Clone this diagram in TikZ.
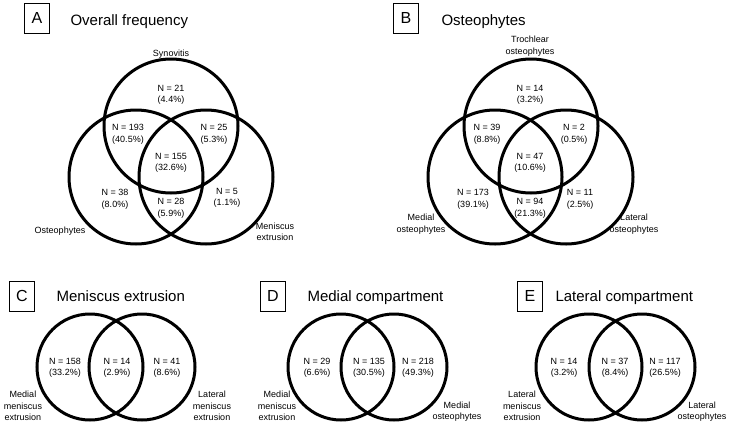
\documentclass[tikz,border=0pt]{standalone}
\usepackage{fontspec}
\setmainfont{Liberation Sans}
\begin{document}
\begin{tikzpicture}[
  x=1pt, y=-1pt,
  set/.style={draw, circle, line width=3pt, minimum size=134pt, inner sep=0pt},
  pairset/.style={set, minimum size=106pt},
  cnt/.style={font=\fontsize{9}{11.5}\selectfont, align=center},
  lbl/.style={cnt},
  tag/.style={draw, line width=0.8pt, minimum width=25pt, minimum height=30pt,
              inner sep=0pt, font=\fontsize{16}{16}\selectfont},
  ttl/.style={anchor=base west, font=\fontsize{15}{18}\selectfont}
]
  \useasboundingbox (0,0) rectangle (733,426);

  %% panel A: overall frequency
  \node[tag] (tA) at (37,18) {A};
  \node[ttl] (hA) at (67,25) {Overall frequency};
  \node[set] (syn) at (171,126) {};
  \node[set] (ost) at (136,177) {};
  \node[set] (men) at (206,177) {};
  \node[lbl] (lsyn) at (171,54) {Synovitis};
  \node[lbl] (lost) at (60,231) {Osteophytes};
  \node[lbl] (lmen) at (275,232) {Meniscus\\extrusion};
  \node[cnt] (a1) at (171,95) {N = 21\\(4.4\%)};
  \node[cnt] (a2) at (128,134.5) {N = 193\\(40.5\%)};
  \node[cnt] (a3) at (214,134.5) {N = 25\\(5.3\%)};
  \node[cnt] (a4) at (171,163) {N = 155\\(32.6\%)};
  \node[cnt] (a5) at (115,199.5) {N = 38\\(8.0\%)};
  \node[cnt] (a6) at (171,208.5) {N = 28\\(5.9\%)};
  \node[cnt] (a7) at (227,198) {N = 5\\(1.1\%)};

  %% panel B: osteophytes
  \node[tag] (tB) at (406,18) {B};
  \node[ttl] (hB) at (438,25) {Osteophytes};
  \node[set] (tro) at (531,126) {};
  \node[set] (med) at (495,177) {};
  \node[set] (lat) at (566,177) {};
  \node[lbl] (ltro) at (530,46) {Trochlear\\osteophytes};
  \node[lbl] (lmed) at (421,224) {Medial\\osteophytes};
  \node[lbl] (llat) at (634,224) {Lateral\\osteophytes};
  \node[cnt] (b1) at (530,95) {N = 14\\(3.2\%)};
  \node[cnt] (b2) at (487,134.5) {N = 39\\(8.8\%)};
  \node[cnt] (b3) at (574,134.5) {N = 2\\(0.5\%)};
  \node[cnt] (b4) at (530,163) {N = 47\\(10.6\%)};
  \node[cnt] (b5) at (473,199.5) {N = 173\\(39.1\%)};
  \node[cnt] (b6) at (530,208.5) {N = 94\\(21.3\%)};
  \node[cnt] (b7) at (580,199.5) {N = 11\\(2.5\%)};

  %% panel C: meniscus extrusion
  \node[tag] (tC) at (22,296) {C};
  \node[ttl] (hC) at (53,301) {Meniscus extrusion};
  \node[pairset] (cm) at (90,367) {};
  \node[pairset] (cl) at (142,367) {};
  \node[lbl] (lcm) at (23,406) {Medial\\meniscus\\extrusion};
  \node[lbl] (lcl) at (212,406) {Lateral\\meniscus\\extrusion};
  \node[cnt] (c1) at (65,368) {N = 158\\(33.2\%)};
  \node[cnt] (c2) at (117,368) {N = 14\\(2.9\%)};
  \node[cnt] (c3) at (167,368) {N = 41\\(8.6\%)};

  %% panel D: medial compartment
  \node[tag] (tD) at (273,296) {D};
  \node[ttl] (hD) at (304,301) {Medial compartment};
  \node[pairset] (dm) at (341,367) {};
  \node[pairset] (do) at (394,367) {};
  \node[lbl] (ldm) at (277,406) {Medial\\meniscus\\extrusion};
  \node[lbl] (ldo) at (457,411.5) {Medial\\osteophytes};
  \node[cnt] (d1) at (317,368) {N = 29\\(6.6\%)};
  \node[cnt] (d2) at (369,368) {N = 135\\(30.5\%)};
  \node[cnt] (d3) at (418,368) {N = 218\\(49.3\%)};

  %% panel E: lateral compartment
  \node[tag] (tE) at (530,296) {E};
  \node[ttl] (hE) at (552,301) {Lateral compartment};
  \node[pairset] (em) at (589,367) {};
  \node[pairset] (eo) at (642,367) {};
  \node[lbl] (lem) at (522,406) {Lateral\\meniscus\\extrusion};
  \node[lbl] (leo) at (702,411.5) {Lateral\\osteophytes};
  \node[cnt] (e1) at (564,368) {N = 14\\(3.2\%)};
  \node[cnt] (e2) at (615,368) {N = 37\\(8.4\%)};
  \node[cnt] (e3) at (665,368) {N = 117\\(26.5\%)};
\end{tikzpicture}
\end{document}
